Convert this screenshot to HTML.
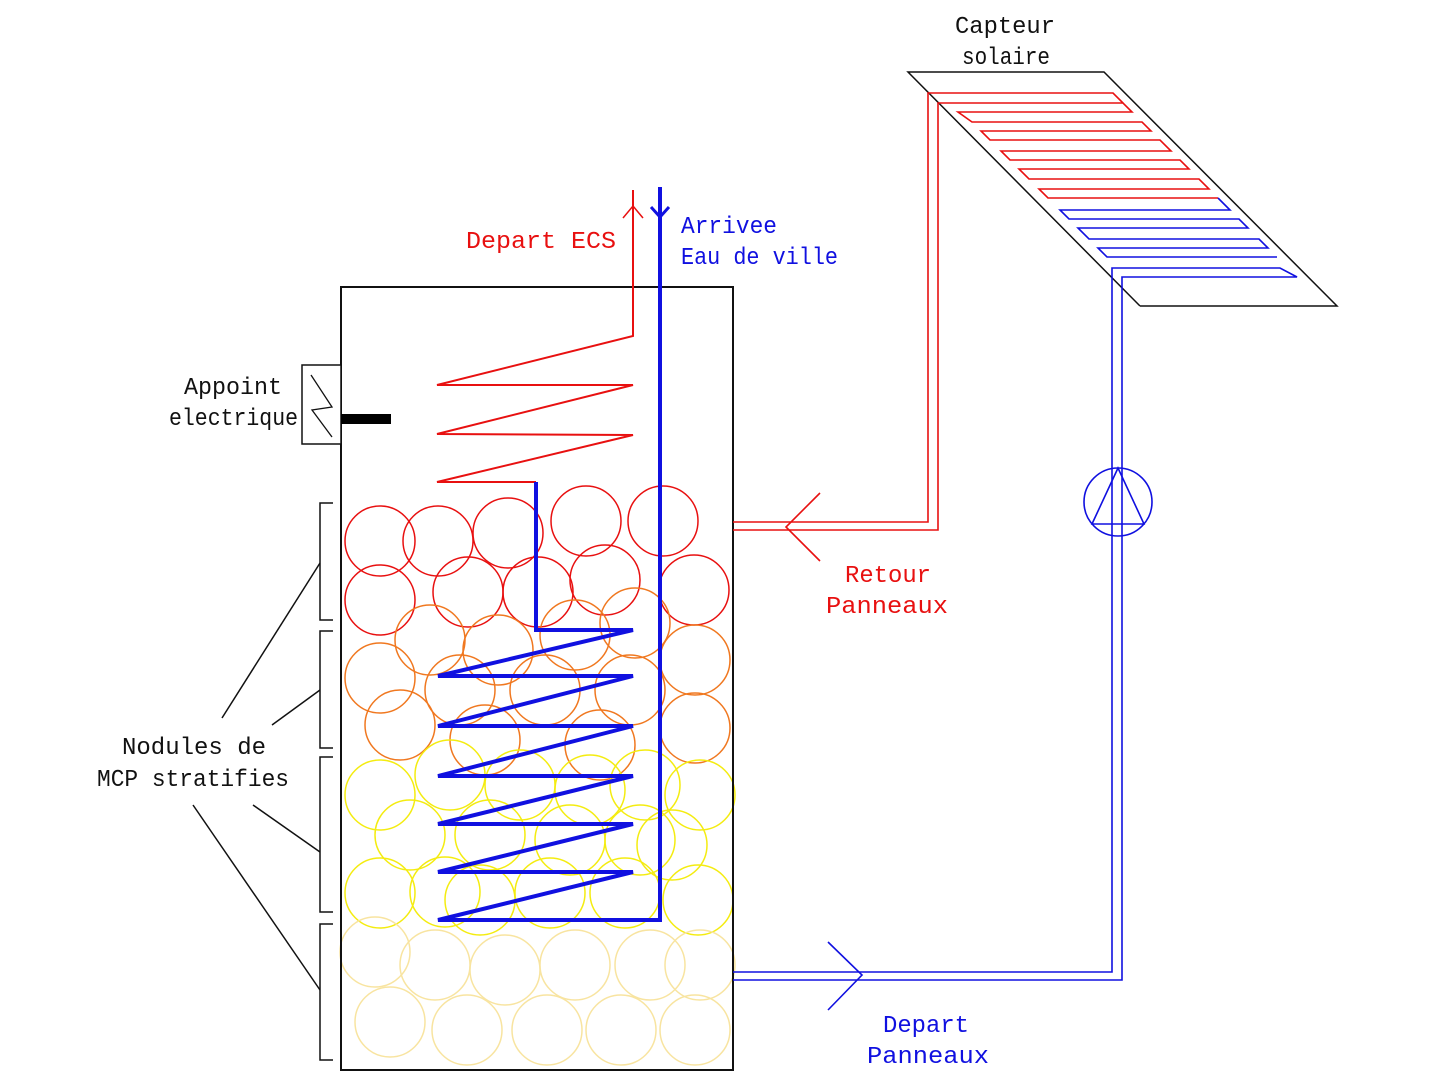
<!DOCTYPE html>
<html><head><meta charset="utf-8"><style>
html,body{margin:0;padding:0;background:#fff;width:1440px;height:1080px;overflow:hidden}
svg text{font-family:"Liberation Mono","DejaVu Sans Mono",monospace;font-size:24px}
</style></head><body>
<svg width="1440" height="1080" viewBox="0 0 1440 1080" xmlns="http://www.w3.org/2000/svg">
<g fill="none" stroke-width="1.5">
<g stroke="#e81010">
<circle cx="380" cy="541" r="35"/><circle cx="438" cy="541" r="35"/><circle cx="508" cy="533" r="35"/><circle cx="586" cy="521" r="35"/><circle cx="663" cy="521" r="35"/>
<circle cx="380" cy="600" r="35"/><circle cx="468" cy="592" r="35"/><circle cx="538" cy="592" r="35"/><circle cx="605" cy="580" r="35"/><circle cx="694" cy="590" r="35"/>
</g>
<g stroke="#f07820">
<circle cx="430" cy="640" r="35"/><circle cx="498" cy="650" r="35"/><circle cx="575" cy="635" r="35"/><circle cx="635" cy="623" r="35"/>
<circle cx="380" cy="678" r="35"/><circle cx="460" cy="690" r="35"/><circle cx="545" cy="690" r="35"/><circle cx="630" cy="690" r="35"/><circle cx="695" cy="660" r="35"/>
<circle cx="400" cy="725" r="35"/><circle cx="485" cy="740" r="35"/><circle cx="600" cy="745" r="35"/><circle cx="695" cy="728" r="35"/>
</g>
<g stroke="#f4ec10">
<circle cx="380" cy="795" r="35"/><circle cx="450" cy="775" r="35"/><circle cx="520" cy="785" r="35"/><circle cx="590" cy="790" r="35"/><circle cx="645" cy="785" r="35"/><circle cx="700" cy="795" r="35"/>
<circle cx="410" cy="835" r="35"/><circle cx="490" cy="835" r="35"/><circle cx="570" cy="840" r="35"/><circle cx="640" cy="840" r="35"/><circle cx="672" cy="845" r="35"/>
<circle cx="380" cy="893" r="35"/><circle cx="445" cy="892" r="35"/><circle cx="480" cy="900" r="35"/><circle cx="550" cy="893" r="35"/><circle cx="625" cy="893" r="35"/><circle cx="698" cy="900" r="35"/>
</g>
<g stroke="#f8e4a0">
<circle cx="375" cy="952" r="35"/><circle cx="435" cy="965" r="35"/><circle cx="505" cy="970" r="35"/><circle cx="575" cy="965" r="35"/><circle cx="650" cy="965" r="35"/><circle cx="700" cy="965" r="35"/>
<circle cx="390" cy="1022" r="35"/><circle cx="467" cy="1030" r="35"/><circle cx="547" cy="1030" r="35"/><circle cx="621" cy="1030" r="35"/><circle cx="695" cy="1030" r="35"/>
</g>
</g>
<rect x="341" y="287" width="392" height="783" fill="none" stroke="#111" stroke-width="2"/>
<rect x="302" y="365" width="39" height="79" fill="#fff" stroke="#111" stroke-width="1.5"/>
<polyline points="311,375 332,407 312,410 332,437" fill="none" stroke="#111" stroke-width="1.3"/>
<rect x="341" y="414" width="50" height="10" fill="#000"/>
<g fill="none" stroke="#111" stroke-width="1.5">
<polyline points="333,503 320,503 320,620 333,620"/>
<polyline points="333,631 320,631 320,748 333,748"/>
<polyline points="333,757 320,757 320,912 333,912"/>
<polyline points="333,924 320,924 320,1060 333,1060"/>
<line x1="222" y1="718" x2="320" y2="563"/>
<line x1="272" y1="725" x2="320" y2="690"/>
<line x1="253" y1="805" x2="320" y2="852"/>
<line x1="193" y1="805" x2="320" y2="990"/>
</g>
<polyline points="633,190 633,336 437,385 633,385 437,434 633,435 437,482 536,482" fill="none" stroke="#e81010" stroke-width="2"/>
<polyline points="623,218 633,206 643,218" fill="none" stroke="#e81010" stroke-width="1.5"/>
<polyline points="536,482 536,630 633,630 438,676 633,676 438,726 633,726 438,776 633,776 438,824 633,824 438,872 633,872 438,920 660,920 660,187" fill="none" stroke="#1010e0" stroke-width="4"/>
<polyline points="651,207 660,217 669,207" fill="none" stroke="#1010e0" stroke-width="3"/>
<polyline points="1140,306 908,72 1104,72 1337,306 1140,306" fill="none" stroke="#111" stroke-width="1.5"/>
<g fill="none" stroke="#e81010" stroke-width="1.6">
<polyline points="733,522 928,522 928,93 1113,93 1123,103"/>
<polyline points="733,530 938,530 938,103 1123,103 1132,112 958,112 972,122 1142,122 1151,131 981,131 990,140 1160,140 1171,151 1001,151 1010,160 1180,160 1189,169 1019,169 1029,179 1199,179 1209,189 1039,189 1048,198 1218,198"/>
</g>
<g fill="none" stroke="#1010e0" stroke-width="1.6">
<polyline points="1218,198 1230,210 1060,210 1069,219 1239,219 1248,228 1078,228 1089,239 1259,239 1268,248 1098,248 1107,257 1277,257"/>
<polyline points="733,972 1112,972 1112,268 1280,268 1297,277 1122,277 1122,980 733,980"/>
<circle cx="1118" cy="502" r="34"/>
<polygon points="1118,468 1092,524 1144,524"/>
</g>
<polyline points="820,493 786,527 820,561" fill="none" stroke="#e81010" stroke-width="1.6"/>
<polyline points="828,942 862,975 828,1010" fill="none" stroke="#1010e0" stroke-width="1.6"/>
<g fill="#111">
<text x="955" y="33" textLength="100" lengthAdjust="spacingAndGlyphs">Capteur</text>
<text x="962" y="64" textLength="88" lengthAdjust="spacingAndGlyphs">solaire</text>
<text x="184" y="394" textLength="98" lengthAdjust="spacingAndGlyphs">Appoint</text>
<text x="169" y="425" textLength="129" lengthAdjust="spacingAndGlyphs">electrique</text>
<text x="122" y="754" textLength="144" lengthAdjust="spacingAndGlyphs">Nodules de</text>
<text x="97" y="786" textLength="192" lengthAdjust="spacingAndGlyphs">MCP stratifies</text>
</g>
<g fill="#e81010">
<text x="466" y="248" textLength="150" lengthAdjust="spacingAndGlyphs">Depart ECS</text>
<text x="845" y="582" textLength="86" lengthAdjust="spacingAndGlyphs">Retour</text>
<text x="826" y="613" textLength="122" lengthAdjust="spacingAndGlyphs">Panneaux</text>
</g>
<g fill="#1010e0">
<text x="681" y="233" textLength="96" lengthAdjust="spacingAndGlyphs">Arrivee</text>
<text x="681" y="264" textLength="157" lengthAdjust="spacingAndGlyphs">Eau de ville</text>
<text x="883" y="1032" textLength="86" lengthAdjust="spacingAndGlyphs">Depart</text>
<text x="867" y="1063" textLength="122" lengthAdjust="spacingAndGlyphs">Panneaux</text>
</g>
</svg>
</body></html>
